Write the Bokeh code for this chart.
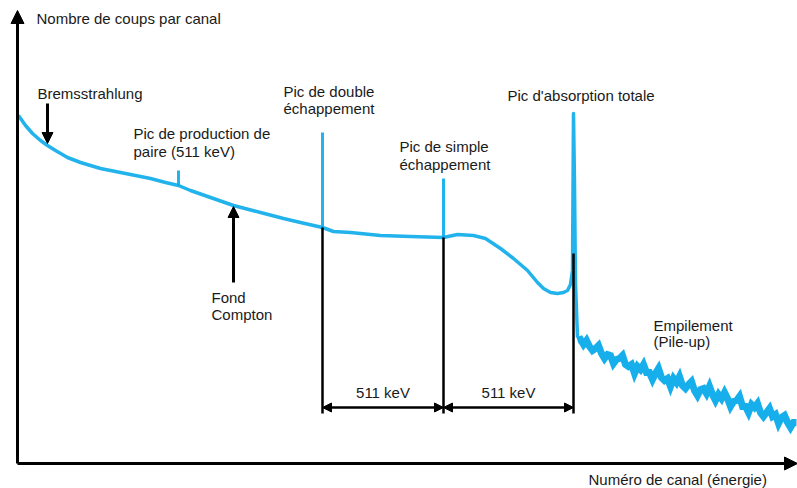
from bokeh.plotting import figure
from bokeh.models import Range1d, Arrow, NormalHead
from bokeh.core.properties import value
from bokeh.embed import file_html
from bokeh.resources import INLINE

# ---- data (channel, counts in arbitrary units) ----
cont_channel = [1, 8, 15, 23, 30, 38, 50, 63, 83, 108, 133, 148, 161, 173, 193, 216, 243,
                266, 283, 305, 316, 333, 363, 393, 426, 440, 456, 468, 483, 496, 510, 520,
                526, 533, 540, 546, 550, 553, 555]
cont_counts = [348, 338, 330, 323, 318, 313, 306, 301, 295, 290, 285, 281, 278, 273, 266, 258, 251,
               245, 241, 236, 232, 231, 228, 227, 226, 229, 228, 225, 215, 205, 193, 181,
               175, 171, 170, 171, 173, 179, 193]

# narrow peaks: channel, base, top
peak_channel = [161, 305, 426]
peak_base = [278, 236, 226]
peak_top = [293, 331, 285]

# full absorption peak
abs_channel = [555, 556, 557, 558, 560]
abs_counts = [193, 350, 280, 180, 126]

# pile-up region (noisy tail)
pile_channel = [560, 563, 566, 569, 572, 575, 578, 581, 584, 587, 590, 593, 596, 599, 602, 605,
                608, 611, 614, 617, 620, 623, 626, 629, 632, 635, 638, 641, 644, 647, 650, 653,
                656, 659, 662, 665, 668, 671, 674, 677, 680, 683, 686, 689, 692, 695, 698, 701,
                704, 707, 710, 713, 716, 719, 722, 725, 728, 731, 734, 737, 740, 743, 746, 749,
                752, 755, 758, 761, 764, 767, 770, 773, 776, 779]
pile_counts = [123, 124, 119, 123, 117, 113, 115, 118, 110, 105, 109, 108, 100, 104, 105, 108,
               99, 97, 99, 90, 97, 94, 99, 91, 91, 84, 90, 95, 86, 83, 85, 77,
               85, 81, 87, 78, 75, 79, 82, 73, 68, 74, 75, 70, 77, 69, 63, 69,
               65, 71, 65, 57, 62, 63, 67, 57, 57, 51, 59, 56, 60, 51, 47, 51,
               55, 47, 49, 40, 46, 48, 41, 36, 41, 41]

# energy-difference markers
marker_channel = [305, 426, 556]
marker_top = [236, 226, 210]
marker_bottom = 50
gap_level = 56
gap_labels = ["511 keV", "511 keV"]

# annotation texts
label_text = ["Nombre de coups par canal", "Bremsstrahlung", "Pic de production de",
              "paire (511 keV)", "Pic de double", "échappement", "Pic de simple",
              "échappement", "Pic d'absorption totale", "Fond", "Compton",
              "Empilement", "(Pile-up)", "Numéro de canal (énergie)"]
label_x = [19, 20, 116, 116, 266, 266, 382, 382, 490, 194, 194, 636, 636, 571]
label_y = [445, 370, 330, 312, 372, 355, 317, 299, 368, 166, 149, 138, 122, -16]

BLUE = "#0aabea"
FONT = value("Liberation Sans")
FSIZE = "15px"

p = figure(width=797, height=488, output_backend="svg", toolbar_location=None,
           x_range=Range1d(-17, 780), y_range=Range1d(-25, 463),
           x_axis_location=None, y_axis_location=None, min_border=0)
p.grid.visible = False
p.outline_line_color = None
p.background_fill_color = "white"

# spectrum
p.line(cont_channel, cont_counts, line_color=BLUE, line_width=3.5, line_alpha=0.9, line_join="round")
p.segment(x0=peak_channel, y0=peak_base, x1=peak_channel, y1=peak_top,
          line_color=BLUE, line_width=3, line_alpha=0.9)
p.line(abs_channel, abs_counts, line_color=BLUE, line_width=3.5, line_alpha=0.9, line_join="round")
p.line(pile_channel, pile_counts, line_color=BLUE, line_width=7, line_alpha=0.95, line_join="miter")

# marker lines
p.segment(x0=marker_channel, y0=marker_top, x1=marker_channel,
          y1=[marker_bottom] * len(marker_channel), line_color="black", line_width=2.5)

for i in range(2):
    p.add_layout(Arrow(x_start=marker_channel[i], y_start=gap_level,
                       x_end=marker_channel[i + 1], y_end=gap_level,
                       start=NormalHead(size=9, fill_color="black", line_color="black"),
                       end=NormalHead(size=9, fill_color="black", line_color="black"),
                       line_color="black", line_width=2.5))
gap_x = [(marker_channel[i] + marker_channel[i + 1]) / 2 for i in range(2)]
p.text(x=gap_x, y=[gap_level + 15] * 2, text=gap_labels, text_font=FONT,
       text_font_size=FSIZE, text_align="center", text_baseline="alphabetic",
       text_color="#1a1a1a")

# pointer arrows
p.add_layout(Arrow(x_start=30, y_start=360, x_end=30, y_end=320,
                   end=NormalHead(size=11, fill_color="black", line_color="black"),
                   line_color="black", line_width=3))
p.add_layout(Arrow(x_start=216, y_start=181, x_end=216, y_end=257,
                   end=NormalHead(size=11, fill_color="black", line_color="black"),
                   line_color="black", line_width=3))

# axes as arrows
p.add_layout(Arrow(x_start=0, y_start=0, x_end=0, y_end=453,
                   end=NormalHead(size=13, fill_color="black", line_color="black"),
                   line_color="black", line_width=3))
p.add_layout(Arrow(x_start=0, y_start=0, x_end=780, y_end=0,
                   end=NormalHead(size=13, fill_color="black", line_color="black"),
                   line_color="black", line_width=3))

p.text(x=label_x, y=label_y, text=label_text, text_font=FONT, text_font_size=FSIZE,
       text_align="left", text_baseline="alphabetic", text_color="#1a1a1a")

open("out.html", "w").write(file_html(p, INLINE))
